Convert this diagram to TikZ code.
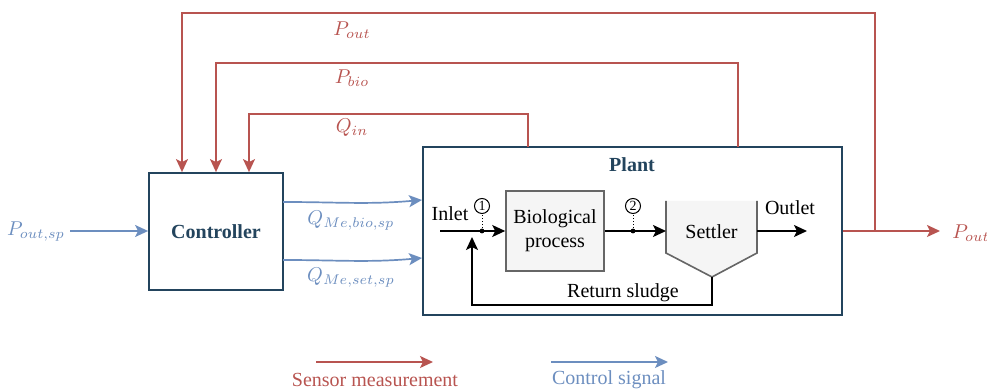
\documentclass[tikz,border=0pt]{standalone}
\usepackage{fontspec}
\setmainfont{Liberation Serif}
\usetikzlibrary{arrows.meta,calc}
\definecolor{sred}{HTML}{B85450}
\definecolor{cblue}{HTML}{6C8EBF}
\definecolor{dteal}{HTML}{23445D}
\definecolor{gfill}{HTML}{F5F5F5}
\definecolor{gline}{HTML}{666666}
\begin{document}
\begin{tikzpicture}[x=0.5pt,y=-0.5pt,
  tip/.style={-{Stealth[length=6.5pt,width=6pt,inset=1.5pt]}},
  sens/.style={draw=sred,line width=0.85pt,tip},
  csig/.style={draw=cblue,line width=0.85pt,tip},
  flow/.style={draw=black,line width=0.85pt,tip},
  mainbox/.style={draw=dteal,line width=0.9pt,fill=white},
  unitbox/.style={draw=gline,line width=0.8pt,fill=gfill,align=center,font=\normalsize},
  numc/.style={circle,draw=black,line width=0.5pt,inner sep=0pt,minimum size=7.5pt,font=\fontsize{7}{7}\selectfont},
  dotc/.style={circle,fill=black,inner sep=0pt,minimum size=2.4pt},
  rlab/.style={text=sred},
  blab/.style={text=cblue}]
\useasboundingbox (0,0) rectangle (987,389);

% boxes
\node[mainbox,minimum width=67pt,minimum height=58.5pt,font=\bfseries,text=dteal] (ctrl) at (216,231.5) {Controller};
\node[mainbox,minimum width=209.5pt,minimum height=84pt] (plant) at (632.5,231) {};
\node[font=\bfseries,text=dteal] (plantlab) at (632,165) {Plant};
\node[unitbox,minimum width=49pt,minimum height=40pt] (bio) at (555,231) {Biological\\process};

% settler
\coordinate (stl) at (666,201);
\coordinate (str) at (757,201);
\coordinate (setL) at (666,231);
\coordinate (setR) at (757,231);
\coordinate (setB) at (712,277);
\fill[gfill] (stl) -- (666,253) -- (setB) -- (757,253) -- (str) -- cycle;
\draw[gline,line width=0.8pt] (stl) -- (666,253) -- (setB) -- (757,253) -- (str);
\node (settler) at (711.5,232) {Settler};

% plant internal flow
\coordinate (inlet) at (440,231);
\coordinate (outlet) at (807,231);
\coordinate (ret) at (472,237);
\node[dotc] (d1) at (482,231) {};
\node[dotc] (d2) at (633,231) {};
\node[numc] (c1) at (482,206) {1};
\node[numc] (c2) at (633,206) {2};
\draw[flow] (inlet) -- (bio.west);
\draw[flow] (bio.east) -- (setL);
\draw[flow] (setR) -- (outlet);
\draw[line width=0.5pt,densely dotted] (d1) -- (c1);
\draw[line width=0.5pt,densely dotted] (d2) -- (c2);
\draw[flow] (setB) -- (712,305) -| (ret);
\node (inletlab) at (450,214) {Inlet};
\node (outletlab) at (790,208) {Outlet};
\node (retlab) at (623,293) {Return sludge};

% sensor measurements
\coordinate (q1) at (528,147);
\coordinate (q2) at (738,147);
\coordinate (pj) at (875,231);
\coordinate (poutend) at (940,231);
\node[rlab,anchor=west,inner sep=0pt] (poutr) at (952,233) {$P_{out}$};
\draw[sens] (plant.east |- pj) -- (poutend);
\draw[sens] (pj) -- (875,13) -| (182,0 |- ctrl.north);
\draw[sens] (q2) -- (738,63) -| (216,0 |- ctrl.north);
\draw[sens] (q1) -- (528,114) -| (249,0 |- ctrl.north);
\node[rlab] (lpout) at (352,30) {$P_{out}$};
\node[rlab] (lpbio) at (352,78) {$P_{bio}$};
\node[rlab] (lqin) at (352,128) {$Q_{in}$};

% control signals
\node[blab] (posp) at (36,232) {$P_{out,sp}$};
\coordinate (pspin) at (70,231);
\draw[csig] (pspin) -- (ctrl.west |- 0,231);
\coordinate (c1s) at (283,202);
\coordinate (c1e) at (422,200);
\coordinate (c2s) at (283,260);
\coordinate (c2e) at (422,258);
\draw[csig] (c1s) to[out=0,in=185] (c1e);
\draw[csig] (c2s) to[out=0,in=185] (c2e);
\node[blab] (qbio) at (351,221) {$Q_{Me,bio,sp}$};
\node[blab] (qset) at (351,278) {$Q_{Me,set,sp}$};

% legend
\coordinate (l1s) at (316,362);
\coordinate (l1e) at (433,362);
\coordinate (l2s) at (551,362);
\coordinate (l2e) at (668,362);
\draw[sens] (l1s) -- (l1e);
\draw[csig] (l2s) -- (l2e);
\node[rlab] (leg1) at (375,380) {Sensor measurement};
\node[blab] (leg2) at (609,380) {Control signal};
\end{tikzpicture}
\end{document}
